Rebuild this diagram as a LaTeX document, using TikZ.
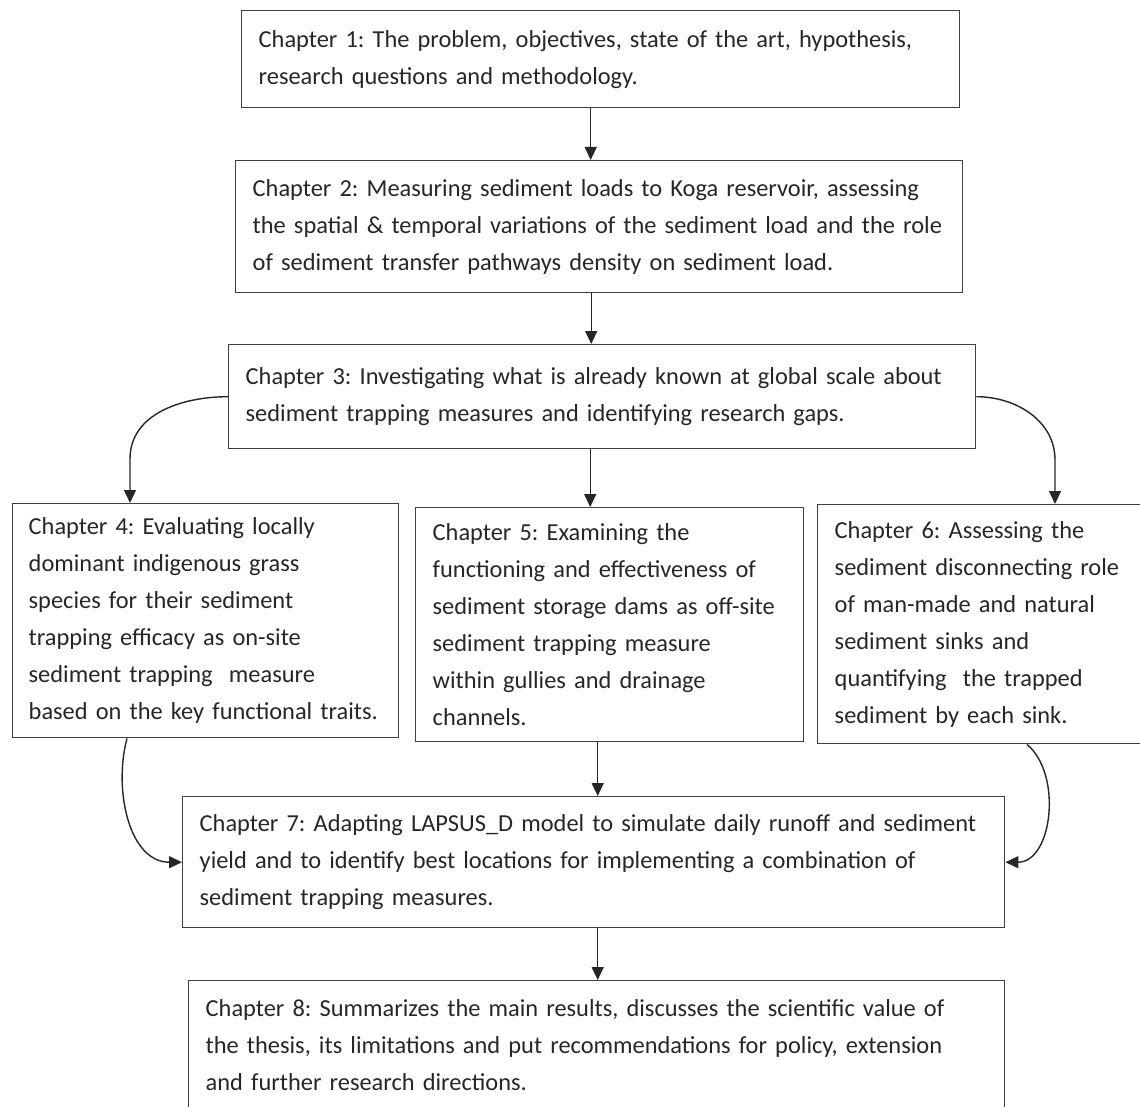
\documentclass[tikz,border=0pt]{standalone}
\usepackage{fontspec}
\setmainfont{Carlito}
\usetikzlibrary{arrows.meta}

\begin{document}
\frenchspacing
\begin{tikzpicture}[x=0.5pt, y=-0.5pt,
    every node/.style={font=\fontsize{12.2}{18.5}\selectfont, text=black!85},
    chap/.style={draw=black!75, line width=0.7pt, anchor=north west, align=left, inner xsep=8.5pt, inner ysep=0pt},
    arr/.style={-{Triangle[length=6.5pt,width=6pt]}, line width=0.7pt, draw=black!85}]
    \useasboundingbox (0,0) rectangle (1140,1107);

    % top chain
    \node[chap, text width=342pt, minimum height=48.5pt] (c1) at (241,10)
        {Chapter 1: The problem, objectives, state of the art, hypothesis,\\
         research questions and methodology.};
    \node[chap, text width=346.5pt, minimum height=66pt] (c2) at (235,160)
        {Chapter 2: Measuring sediment loads to Koga reservoir, assessing\\
         the spatial \& temporal variations of the sediment load and the role\\
         of sediment transfer pathways density on sediment load.};
    \node[chap, text width=356.5pt, minimum height=52pt] (c3) at (228,344)
        {Chapter 3: Investigating what is already known at global scale about\\
         sediment trapping measures and identifying research gaps.};

    % three branches
    \node[chap, text width=177pt, inner xsep=8pt, minimum height=117pt] (c4) at (12,503)
        {Chapter 4: Evaluating locally\\
         dominant indigenous grass\\
         species for their sediment\\
         trapping efficacy as on-site\\
         sediment trapping\ \ measure\\
         based on the key functional traits.};
    \node[chap, text width=177pt, minimum height=117pt] (c5) at (415,507)
        {Chapter 5: Examining the\\
         functioning and effectiveness of\\
         sediment storage dams as off-site\\
         sediment trapping measure\\
         within gullies and drainage\\
         channels.};
    \node[chap, text width=155pt, minimum height=119.5pt] (c6) at (817,504)
        {Chapter 6: Assessing the\\
         sediment disconnecting role\\
         of man-made and natural\\
         sediment sinks and\\
         quantifying\ \ the trapped\\
         sediment by each sink.};

    % model and synthesis
    \node[chap, text width=394pt, minimum height=65.5pt] (c7) at (182,796)
        {Chapter 7: Adapting LAPSUS\_D model to simulate daily runoff and sediment\\
         yield and to identify best locations for implementing a combination of\\
         sediment trapping measures.};
    \node[chap, text width=391pt, minimum height=64pt] (c8) at (188,980)
        {Chapter 8: Summarizes the main results, discusses the scientific value of\\
         the thesis, its limitations and put recommendations for policy, extension\\
         and further research directions.};

    % connectors
    \draw[arr] ([xshift=-5pt]c1.south) -- ([xshift=-5pt]c1.south |- c2.north);
    \draw[arr] ([xshift=-4pt]c2.south) -- ([xshift=-4pt]c2.south |- c3.north);
    \draw[arr] ([xshift=-6pt]c3.south) -- ([xshift=-6pt]c3.south |- c5.north);
    \draw[arr] (c3.west) to[out=180, in=90] ([xshift=59pt, yshift=22pt]c4.north west)
        -- ([xshift=59pt]c4.north west);
    \draw[arr] (c3.east) to[out=0, in=90] ([xshift=119pt, yshift=22pt]c6.north west)
        -- ([xshift=119pt]c6.north west);
    \draw[arr] ([xshift=-6pt]c5.south) -- ([xshift=-6pt]c5.south |- c7.north);
    \draw[arr] ([xshift=57.5pt]c4.south west) to[out=-105, in=180] (c7.west);
    \draw[arr] ([xshift=105pt]c6.south west) to[out=-40, in=0] (c7.east);
    \draw[arr] ([xshift=2pt]c7.south) -- ([xshift=2pt]c7.south |- c8.north);
\end{tikzpicture}
\end{document}
